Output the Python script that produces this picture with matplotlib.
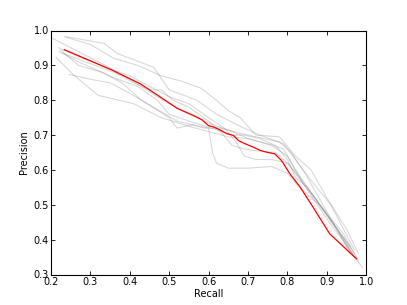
import matplotlib
matplotlib.use('Agg')
import matplotlib.pyplot as plt

# mean precision-recall curve (red)
mean_recall = [0.234, 0.352, 0.427, 0.503, 0.520, 0.562, 0.583, 0.600, 0.613, 0.629,
               0.646, 0.663, 0.676, 0.693, 0.714, 0.731, 0.747, 0.768, 0.785, 0.806,
               0.832, 0.865, 0.907, 0.975]
mean_precision = [0.945, 0.888, 0.847, 0.790, 0.777, 0.756, 0.744, 0.727, 0.723, 0.715,
                  0.704, 0.699, 0.684, 0.675, 0.665, 0.656, 0.651, 0.646, 0.627, 0.589,
                  0.551, 0.493, 0.417, 0.345]

# individual runs (grey)
run_recall = [
    [0.20, 0.26, 0.33, 0.40, 0.47, 0.53, 0.60, 0.66, 0.70, 0.76, 0.80, 0.84, 0.90, 0.99],
    [0.235, 0.335, 0.37, 0.46, 0.50, 0.57, 0.62, 0.68, 0.73, 0.79, 0.82, 0.86, 0.91, 0.97],
    [0.213, 0.26, 0.32, 0.41, 0.48, 0.55, 0.60, 0.65, 0.70, 0.75, 0.79, 0.82, 0.87, 0.93, 0.97],
    [0.246, 0.30, 0.35, 0.40, 0.46, 0.52, 0.59, 0.63, 0.68, 0.72, 0.78, 0.81, 0.85, 0.90, 0.96],
    [0.225, 0.27, 0.33, 0.38, 0.43, 0.50, 0.52, 0.56, 0.60, 0.61, 0.62, 0.65, 0.70, 0.76,
     0.80, 0.83, 0.88, 0.94, 0.98],
    [0.24, 0.30, 0.36, 0.42, 0.48, 0.53, 0.58, 0.62, 0.65, 0.68, 0.72, 0.78, 0.82, 0.86,
     0.90, 0.95, 0.98],
    [0.22, 0.28, 0.35, 0.40, 0.45, 0.50, 0.55, 0.60, 0.64, 0.67, 0.69, 0.72, 0.76, 0.80,
     0.83, 0.87, 0.92, 0.97],
    [0.23, 0.30, 0.36, 0.41, 0.45, 0.48, 0.51, 0.55, 0.60, 0.63, 0.66, 0.69, 0.72, 0.77,
     0.80, 0.84, 0.89, 0.95, 0.97],
    [0.22, 0.27, 0.33, 0.37, 0.42, 0.47, 0.50, 0.55, 0.58, 0.62, 0.66, 0.69, 0.73, 0.77,
     0.80, 0.82, 0.85, 0.90, 0.96],
]
run_precision = [
    [0.98, 0.945, 0.905, 0.86, 0.81, 0.77, 0.735, 0.71, 0.69, 0.67, 0.64, 0.56, 0.46, 0.32],
    [0.983, 0.963, 0.933, 0.895, 0.83, 0.80, 0.76, 0.725, 0.70, 0.675, 0.63, 0.57, 0.50, 0.37],
    [0.923, 0.87, 0.814, 0.79, 0.75, 0.725, 0.71, 0.695, 0.69, 0.675, 0.66, 0.60, 0.52, 0.42, 0.35],
    [0.874, 0.86, 0.85, 0.82, 0.78, 0.74, 0.72, 0.72, 0.705, 0.695, 0.68, 0.65, 0.58, 0.48, 0.36],
    [0.944, 0.90, 0.88, 0.85, 0.80, 0.75, 0.72, 0.73, 0.72, 0.65, 0.62, 0.605, 0.605, 0.61,
     0.59, 0.55, 0.50, 0.42, 0.34],
    [0.98, 0.96, 0.92, 0.90, 0.87, 0.855, 0.835, 0.80, 0.77, 0.75, 0.70, 0.695, 0.64, 0.60,
     0.52, 0.43, 0.36],
    [0.95, 0.92, 0.89, 0.87, 0.84, 0.81, 0.79, 0.75, 0.72, 0.68, 0.64, 0.63, 0.63, 0.62,
     0.58, 0.52, 0.44, 0.36],
    [0.935, 0.905, 0.88, 0.85, 0.83, 0.83, 0.80, 0.78, 0.74, 0.71, 0.67, 0.66, 0.655, 0.65,
     0.62, 0.56, 0.49, 0.39, 0.35],
    [0.94, 0.91, 0.88, 0.86, 0.84, 0.80, 0.76, 0.74, 0.73, 0.715, 0.70, 0.70, 0.69, 0.67,
     0.63, 0.58, 0.55, 0.47, 0.38],
]

FS = 7
fig = plt.figure(figsize=(4.07, 3.05), dpi=100)
ax = fig.add_axes([0.125, 0.1, 0.775, 0.8])

for r, p in zip(run_recall, run_precision):
    ax.plot(r, p, color='gray', alpha=0.3, lw=0.8)
ax.plot(mean_recall, mean_precision, color='red', lw=0.9)

ax.set_xlim(0.2, 1.0)
ax.set_ylim(0.3, 1.0)
ax.set_xticks([0.2, 0.3, 0.4, 0.5, 0.6, 0.7, 0.8, 0.9, 1.0])
ax.set_yticks([0.3, 0.4, 0.5, 0.6, 0.7, 0.8, 0.9, 1.0])
ax.tick_params(direction='in', top=True, right=True, labelsize=FS, length=3, width=0.6, pad=1.5)
for s in ax.spines.values():
    s.set_linewidth(0.8)
ax.set_xlabel('Recall', fontsize=FS, labelpad=1.5)
ax.set_ylabel('Precision', fontsize=FS, labelpad=3)

fig.savefig('out.png', dpi=100)
